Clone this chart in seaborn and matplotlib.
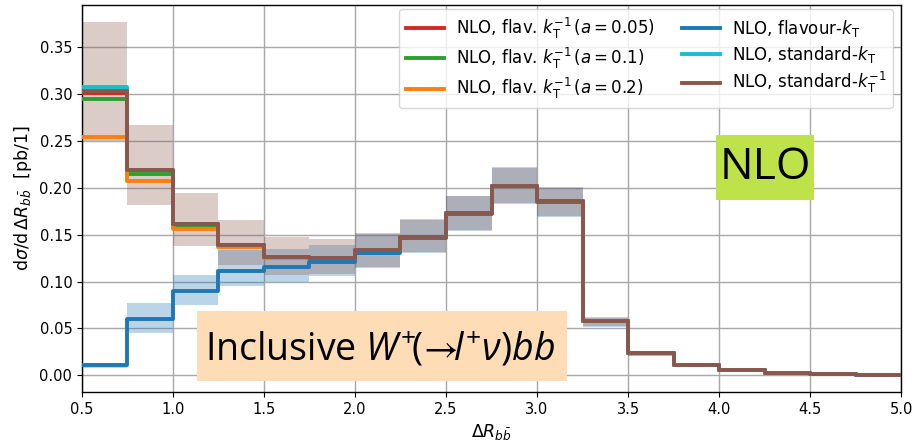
import numpy as np
import pandas as pd
import matplotlib
matplotlib.use("Agg")
import matplotlib.pyplot as plt
import seaborn as sns
from matplotlib.patches import Rectangle

# ---------------- data ----------------
edges = [0.5, 0.75, 1.0, 1.25, 1.5, 1.75, 2.0, 2.25, 2.5, 2.75, 3.0,
         3.25, 3.5, 3.75, 4.0, 4.25, 4.5, 4.75, 5.0]

std_kt_inv = [0.303, 0.219, 0.161, 0.139, 0.126, 0.125, 0.134, 0.1475, 0.173,
              0.202, 0.1855, 0.0578, 0.0234, 0.0106, 0.0057, 0.0025, 0.0014, 0.0004]
std_kt_inv_lo = [0.250, 0.182, 0.138, 0.118, 0.107, 0.108, 0.116, 0.132, 0.155,
                 0.184, 0.170, 0.0525, 0.021, 0.0095, 0.005, 0.002, 0.001, 0.0002]
std_kt_inv_hi = [0.377, 0.267, 0.194, 0.166, 0.148, 0.145, 0.152, 0.167, 0.1915,
                 0.222, 0.2007, 0.062, 0.026, 0.012, 0.0065, 0.003, 0.0017, 0.0006]

flav_kt = [0.0106, 0.0596, 0.090, 0.111, 0.116, 0.1205, 0.131, 0.146, 0.1725,
           0.2015, 0.185, 0.0575, 0.0233, 0.0105, 0.0057, 0.0025, 0.0014, 0.0004]
flav_kt_lo = [0.008, 0.045, 0.0755, 0.095, 0.100, 0.106, 0.115, 0.131, 0.154,
              0.183, 0.169, 0.052, 0.021, 0.0095, 0.005, 0.002, 0.001, 0.0002]
flav_kt_hi = [0.013, 0.077, 0.107, 0.134, 0.135, 0.139, 0.151, 0.166, 0.191,
              0.221, 0.200, 0.0615, 0.026, 0.012, 0.0065, 0.003, 0.0017, 0.0006]

flav_a005 = [0.301, 0.219, 0.161, 0.139, 0.126, 0.125, 0.134, 0.1475, 0.173,
             0.202, 0.1855, 0.0578, 0.0234, 0.0106, 0.0057, 0.0025, 0.0014, 0.0004]
flav_a01 = [0.295, 0.2145, 0.159, 0.139, 0.126, 0.125, 0.134, 0.1475, 0.173,
            0.202, 0.1855, 0.0578, 0.0234, 0.0106, 0.0057, 0.0025, 0.0014, 0.0004]
flav_a02 = [0.254, 0.207, 0.156, 0.137, 0.1255, 0.1245, 0.134, 0.1475, 0.173,
            0.202, 0.1855, 0.0578, 0.0234, 0.0106, 0.0057, 0.0025, 0.0014, 0.0004]
std_kt = [0.308, 0.219, 0.161, 0.139, 0.126, 0.125, 0.134, 0.1475, 0.173,
          0.202, 0.1855, 0.0578, 0.0234, 0.0106, 0.0057, 0.0025, 0.0014, 0.0004]

labels = [
    r"NLO, flav. $k_{\mathrm{T}}^{-1}\,(a = 0.05)$",
    r"NLO, flav. $k_{\mathrm{T}}^{-1}\,(a = 0.1)$",
    r"NLO, flav. $k_{\mathrm{T}}^{-1}\,(a = 0.2)$",
    r"NLO, flavour-$k_{\mathrm{T}}$",
    r"NLO, standard-$k_{\mathrm{T}}$",
    r"NLO, standard-$k_{\mathrm{T}}^{-1}$",
]
series = [flav_a005, flav_a01, flav_a02, flav_kt, std_kt, std_kt_inv]
colors = ["#d62728", "#2ca02c", "#ff7f0e", "#1f77b4", "#17becf", "#8c564b"]

# ---------------- figure ----------------
plt.rcParams["font.family"] = ["DejaVu Sans"]
plt.rcParams["mathtext.fontset"] = "dejavusans"
plt.rcParams["mathtext.rm"] = "Open Sans"
plt.rcParams["mathtext.it"] = "Open Sans:italic"
plt.rcParams["mathtext.bf"] = "Open Sans:bold"
plt.rcParams["mathtext.fallback"] = "stixsans"

fig, ax = plt.subplots(figsize=(9.14, 4.42), dpi=100)
fig.subplots_adjust(left=0.0897, right=0.9858, top=0.9887, bottom=0.1131)

ax.grid(True, color="#a8a8a8", lw=1.0, zorder=0)
ax.set_axisbelow(True)

# uncertainty bands (blue first, brown on top)
x_step = np.array(edges)
def ext(v):
    return list(v) + [v[-1]]
ax.fill_between(x_step, ext(flav_kt_lo), ext(flav_kt_hi), step="post",
                color="#1f77b4", alpha=0.3, lw=0, zorder=1)
ax.fill_between(x_step, ext(std_kt_inv_lo), ext(std_kt_inv_hi), step="post",
                color="#8c564b", alpha=0.3, lw=0, zorder=1.1)

rows = []
for lab, vals in zip(labels, series):
    for xe, yv in zip(edges, ext(vals)):
        rows.append({"x": xe, "y": yv, "series": lab})
df = pd.DataFrame(rows)

palette = dict(zip(labels, colors))
sns.lineplot(data=df, x="x", y="y", hue="series", hue_order=labels,
             palette=palette, drawstyle="steps-post", estimator=None,
             sort=False, lw=2.8, ax=ax, legend=True, zorder=3)

ax.set_xlim(0.5, 5.0)
ax.set_ylim(-0.0178, 0.395)
ax.set_xticks([0.5, 1.0, 1.5, 2.0, 2.5, 3.0, 3.5, 4.0, 4.5, 5.0])
ax.set_yticks([0.0, 0.05, 0.10, 0.15, 0.20, 0.25, 0.30, 0.35])
ax.yaxis.set_major_formatter(matplotlib.ticker.FormatStrFormatter("%.2f"))
ax.xaxis.set_major_formatter(matplotlib.ticker.FormatStrFormatter("%.1f"))
ax.tick_params(labelsize=10.5)
for s in ax.spines.values():
    s.set_color("black")
    s.set_linewidth(1.0)

ax.set_xlabel(r"$\Delta R_{b\bar{b}}$", fontsize=12.5, labelpad=4)
ax.set_ylabel(r"d$\sigma$/d$\,\Delta R_{b\bar{b}}$  [pb/1]", fontsize=12.5,
              labelpad=4)

handles, labs = ax.get_legend_handles_labels()
leg = ax.legend(handles, labs, ncol=2, loc="upper right",
                bbox_to_anchor=(0.990, 0.990), borderaxespad=0.0,
                fontsize=12, handlelength=2.3, columnspacing=1.6,
                labelspacing=0.32, handletextpad=0.7, framealpha=0.8)
for ln in leg.get_lines():
    ln.set_linewidth(2.8)

# annotation boxes
ax.add_patch(Rectangle((0.774, 0.496), 0.120, 0.168, transform=ax.transAxes,
                       facecolor="#bde24a", edgecolor="none", zorder=4))
ax.text(0.834, 0.579, "NLO", transform=ax.transAxes, ha="center", va="center",
        fontsize=32, family="Open Sans", zorder=5)

ax.add_patch(Rectangle((0.1404, 0.0284), 0.4516, 0.1806, transform=ax.transAxes,
                       facecolor="#fedcb6", edgecolor="none", zorder=4))
ax.text(0.150, 0.0827,
        r"Inclusive $W^{+}\!(\!\rightarrow\!\!l^{+}\nu)bb$",
        transform=ax.transAxes, ha="left", va="baseline", fontsize=27,
        family="Open Sans", math_fontfamily="custom", zorder=5)

fig.savefig("out.png", dpi=100)
